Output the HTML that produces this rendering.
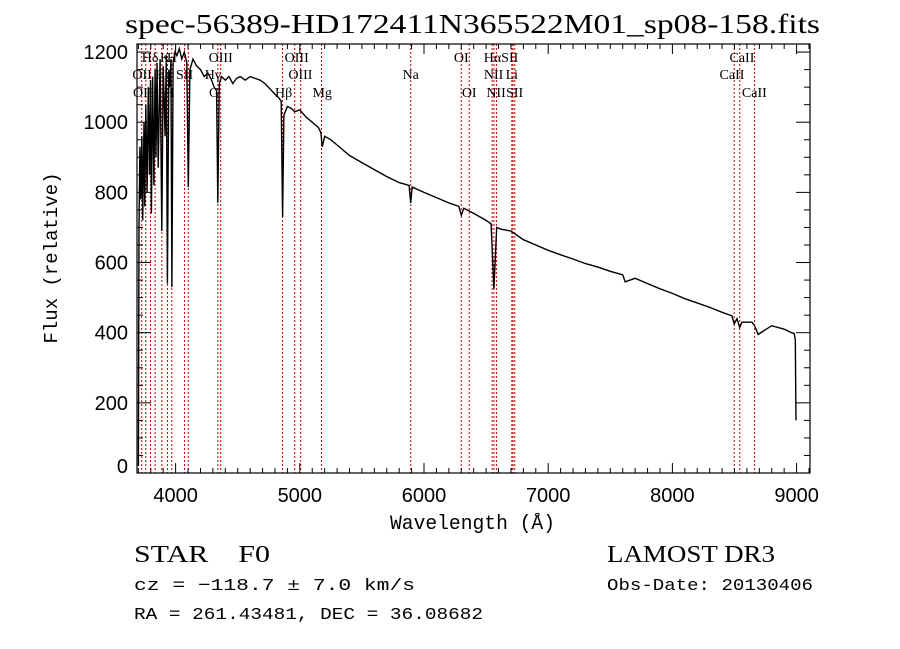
<!DOCTYPE html>
<html><head><meta charset="utf-8"><style>
body{margin:0;background:#fff;}
svg{display:block;}
text{font-family:"Liberation Serif",serif;fill:#000;}
.mono{font-family:"Liberation Mono",monospace;}
.sans{font-family:"Liberation Sans",sans-serif;}
</style></head><body>
<svg id="chart" width="900" height="649" viewBox="0 0 900 649">
<rect width="900" height="649" fill="#fff"/>
<text x="125" y="33" font-size="27" textLength="695" lengthAdjust="spacingAndGlyphs">spec-56389-HD172411N365522M01_sp08-158.fits</text>
<g id="lines"></g>
<g id="spec"></g>
<g id="axes"></g>
<text x="390" y="529" font-size="20" class="mono" textLength="165" lengthAdjust="spacingAndGlyphs">Wavelength (Å)</text>
<text transform="translate(57,258) rotate(-90)" text-anchor="middle" font-size="19" class="mono">Flux (relative)</text>
<text x="134" y="562" font-size="24" textLength="136" lengthAdjust="spacingAndGlyphs">STAR&#160;&#160;&#160;&#160;F0</text>
<text x="607" y="562" font-size="24" textLength="168" lengthAdjust="spacingAndGlyphs">LAMOST DR3</text>
<text x="134" y="590" font-size="17" class="mono" textLength="281" lengthAdjust="spacingAndGlyphs">cz = −118.7 ± 7.0 km/s</text>
<text x="607" y="590" font-size="17" class="mono" textLength="206" lengthAdjust="spacingAndGlyphs">Obs-Date: 20130406</text>
<text x="134" y="619" font-size="17" class="mono" textLength="349" lengthAdjust="spacingAndGlyphs">RA = 261.43481, DEC =  36.08682</text>
</svg>
<script>
const wave=[3700,3705,3712,3720,3728,3735,3745,3752,3760,3770,3780,3790,3798,3805,3815,3825,3835,3842,3850,3860,3875,3889,3900,3915,3925,3934,3945,3955,3962,3970,3980,3995,4010,4030,4050,4070,4090,4102,4115,4140,4170,4200,4230,4260,4290,4310,4330,4340,4352,4370,4400,4430,4460,4490,4520,4560,4600,4640,4680,4720,4760,4800,4830,4850,4861,4872,4900,4930,4960,5000,5050,5100,5150,5170,5180,5200,5250,5300,5400,5500,5600,5700,5800,5880,5893,5905,6000,6100,6200,6280,6300,6320,6400,6500,6540,6563,6585,6620,6700,6800,6900,7000,7100,7200,7300,7400,7500,7600,7620,7700,7800,7900,8000,8100,8200,8300,8400,8480,8498,8520,8542,8560,8640,8662,8690,8800,8900,8960,8980,8990,8995];
const flux=[20,700,930,780,960,720,1000,760,1050,800,1100,850,1120,740,1130,820,1150,900,1170,870,1180,690,1160,960,1190,540,1150,1100,1180,530,1170,1200,1190,1210,1180,1200,1170,815,1150,1180,1160,1150,1130,1140,1120,1100,1090,770,1110,1130,1120,1130,1110,1125,1130,1120,1130,1125,1120,1110,1095,1080,1070,1060,730,1020,1045,1040,1030,1035,1015,1000,985,970,930,960,950,935,905,885,865,845,828,820,770,815,800,785,770,760,735,755,740,720,710,525,700,695,690,665,650,635,622,610,597,587,575,565,545,555,540,525,512,497,485,472,458,448,425,440,415,430,430,420,395,420,410,400,398,380,150,60];
const lineW=[3727,3760,3798,3835,3889,3934,3969,4072,4102,4340,4363,4861,4959,5007,5175,5893,6300,6364,6548,6563,6583,6707,6716,6731,8498,8542,8662];
const lbl=[["Hδ",3795,1],["K",3915,1],["H",3970,1],["OIII",4363,1],["OIII",4975,1],["OI",6300,1],["HαSII",6620,1],["CaII",8560,1],
["OII",3730,2],["Hε",3900,2],["SII",4072,2],["Hγ",4300,2],["OIII",5005,2],["Na",5893,2],["NII",6560,2],["Li",6707,2],["CaII",8480,2],
["OII",3735,3],["Hη",3850,3],["H",3950,3],["G",4310,3],["Hβ",4870,3],["Mg",5180,3],["OI",6364,3],["NII",6580,3],["SII",6730,3],["CaII",8660,3]];
const xTicks=[4000,5000,6000,7000,8000,9000];
const yTicks=[0,200,400,600,800,1000,1200];
const X0=137,X1=810,Y0=44,Y1=473,WMIN=3689,WMAX=9108,FMIN=0,FMAX=1223;
const sx=w=>X0+(w-WMIN)/(WMAX-WMIN)*(X1-X0);
const sy=f=>Y1-(f-FMIN)/(FMAX-FMIN)*(Y1-Y0);
const NS="http://www.w3.org/2000/svg";
function mk(t,a,p){const e=document.createElementNS(NS,t);for(const k in a)e.setAttribute(k,a[k]);p.appendChild(e);return e;}
const gL=document.getElementById('lines'),gS=document.getElementById('spec'),gA=document.getElementById('axes');
lineW.forEach(w=>{const l=mk('line',{x1:sx(w),x2:sx(w),y1:Y0,y2:Y1,stroke:'#c00000','stroke-width':1,'stroke-dasharray':'2,2'},gL);

});
const rowY={1:62,2:79,3:97};
lbl.forEach(d=>{const t=mk('text',{x:sx(d[1]),y:rowY[d[2]],'text-anchor':'middle','font-size':14},gL);t.textContent=d[0];

});
let dp='';wave.forEach((w,i)=>{dp+=(i?'L':'M')+sx(w).toFixed(1)+','+sy(flux[i]).toFixed(1);});
const p=mk('path',{d:dp,fill:'none',stroke:'#000','stroke-width':1.4},gS);


const fr=mk('rect',{x:X0,y:Y0,width:X1-X0,height:Y1-Y0,fill:'none',stroke:'#000','stroke-width':1.2},gA);


for(let w=3700;w<=9100;w+=100){const maj=w%1000===0,L=maj?10:5;
mk('line',{x1:sx(w),x2:sx(w),y1:Y1,y2:Y1-L,stroke:'#000'},gA);mk('line',{x1:sx(w),x2:sx(w),y1:Y0,y2:Y0+L,stroke:'#000'},gA);}
for(let f=0;f<=1200;f+=50){const maj=f%200===0,L=maj?14:6;
mk('line',{x1:X0,x2:X0+L,y1:sy(f),y2:sy(f),stroke:'#000'},gA);mk('line',{x1:X1,x2:X1-L,y1:sy(f),y2:sy(f),stroke:'#000'},gA);}
xTicks.forEach(w=>{const t=mk('text',{x:sx(w),y:502,'text-anchor':'middle','font-size':20,class:'sans'},gA);t.textContent=w;

});
yTicks.forEach(f=>{const t=mk('text',{x:128,y:Math.min(sy(f)+7,473),'text-anchor':'end','font-size':20,class:'sans'},gA);t.textContent=f;

});
</script>
</body></html>
